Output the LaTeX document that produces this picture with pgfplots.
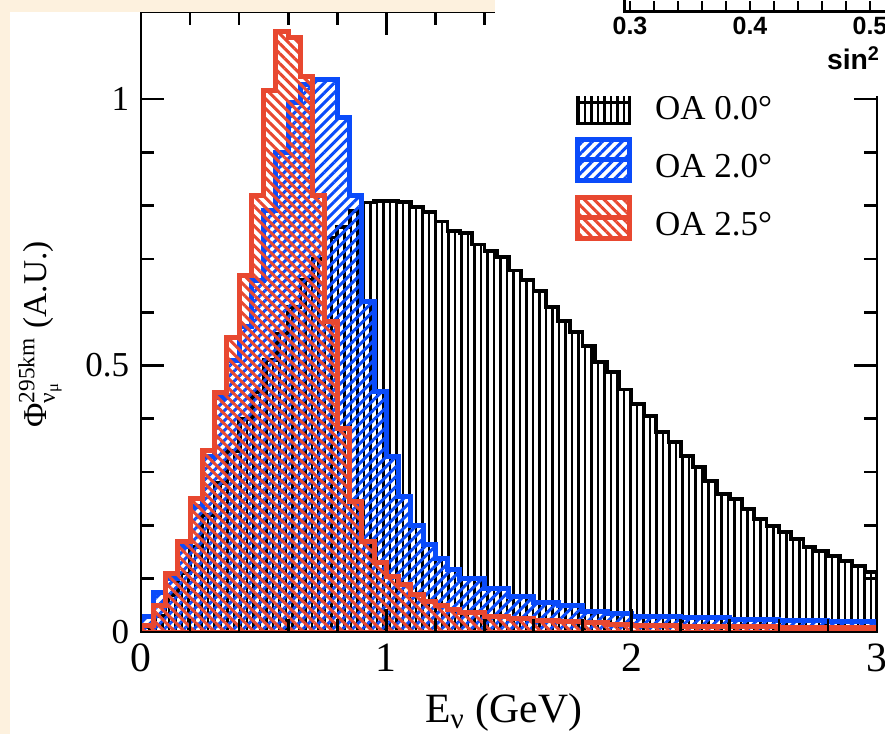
\documentclass[border=0pt]{standalone}
\usepackage{fontspec}
\setmainfont{Liberation Serif}
\setsansfont{Liberation Sans}
\usepackage{pgfplots}
\pgfplotsset{compat=1.18}
\usetikzlibrary{patterns.meta}
\definecolor{oablue}{RGB}{10,75,250}
\definecolor{oared}{RGB}{232,72,48}
\definecolor{beige}{RGB}{253,241,222}
\pgfplotsset{/pgf/number format/assume math mode=true}

\begin{document}
\begin{tikzpicture}
\path[use as bounding box] (0,0) rectangle (265.5pt,220.2pt);
\clip (0,0) rectangle (265.5pt,220.2pt);
\fill[white] (0,0) rectangle (265.5pt,220.2pt);
\begin{axis}[
  at={(42.3pt,30.6pt)}, anchor=south west, scale only axis,
  width=220.8pt, height=186pt,
  xmin=0, xmax=3, ymin=0, ymax=1.1632,
  xtick={0,1,2,3}, ytick={0,0.5,1},
  minor x tick num=4, minor y tick num=4,
  tick align=inside, major tick length=6.9pt, minor tick length=3.9pt,
  axis line style={line width=0.8pt},
  every tick/.style={black,line width=0.8pt},
  axis on top,
  yticklabel style={font=\fontsize{10.5}{12}\selectfont},
  xticklabel style={font=\fontsize{12.5}{14}\selectfont},
  xlabel={E\textsubscript{ν} (GeV)},
  xlabel style={font=\fontsize{12.5}{14}\selectfont, at={(axis description cs:0.493,-0.129)}, anchor=center},
  ylabel={Φ$^{\mbox{\scriptsize 295km}}_{\mbox{\scriptsize ν\textsubscript{μ}}}$ (A.U.)},
  ylabel style={font=\fontsize{10}{12}\selectfont, at={(axis description cs:-0.1372,0.48)}, anchor=center},
  legend style={at={(0.5897,0.889)}, anchor=north west, draw=none, fill=none,
    inner sep=0pt, outer sep=0pt, row sep=3.6pt,
    font=\fontsize{10.5}{12}\selectfont, nodes={inner sep=0pt},
    /tikz/every odd column/.append style={column sep=6.9pt}},
  legend cell align=left,
]
\addplot[const plot, draw=black, line width=1.1pt,
  pattern={Lines[angle=90,distance=1.95pt,line width=0.7pt]}, pattern color=black,
  legend image code/.code={
    \fill[pattern={Lines[angle=90,distance=1.95pt,line width=0.7pt]}, pattern color=black] (0pt,-3.9pt) rectangle (15.6pt,8.4pt);
    \draw[black,line width=1.1pt] (0pt,2.4pt) -- (15.6pt,2.4pt);}]
coordinates {
(0.00,0.01) (0.05,0.03) (0.10,0.07) (0.15,0.11) (0.20,0.16) (0.25,0.22)
(0.30,0.28) (0.35,0.34) (0.40,0.40) (0.45,0.45) (0.50,0.51) (0.55,0.56)
(0.60,0.61) (0.65,0.66) (0.70,0.70) (0.75,0.74) (0.80,0.76) (0.85,0.79)
(0.90,0.806) (0.95,0.809) (1.00,0.809) (1.05,0.807) (1.10,0.797) (1.15,0.788)
(1.20,0.77) (1.25,0.752) (1.30,0.748) (1.35,0.727) (1.40,0.715) (1.45,0.703)
(1.50,0.678) (1.55,0.66) (1.60,0.64) (1.65,0.61) (1.70,0.584) (1.75,0.563)
(1.80,0.537) (1.85,0.507) (1.90,0.488) (1.95,0.455) (2.00,0.428) (2.05,0.405)
(2.10,0.375) (2.15,0.356) (2.20,0.33) (2.25,0.31) (2.30,0.283) (2.35,0.259)
(2.40,0.25) (2.45,0.231) (2.50,0.212) (2.55,0.199) (2.60,0.188) (2.65,0.174)
(2.70,0.159) (2.75,0.152) (2.80,0.143) (2.85,0.133) (2.90,0.124) (2.95,0.112)
(3.00,0.112)
} \closedcycle;
\addlegendentry{OA 0.0°}
\addplot[const plot, draw=oablue, line width=1.5pt,
  pattern={Lines[angle=45,distance=2.1pt,line width=0.9pt]}, pattern color=oablue,
  legend image code/.code={
    \fill[pattern={Lines[angle=45,distance=2.1pt,line width=0.9pt]}, pattern color=oablue] (0pt,-3.9pt) rectangle (15.6pt,8.4pt);
    \draw[oablue,line width=1.5pt] (0pt,2.4pt) -- (15.6pt,2.4pt);}]
coordinates {
(0.00,0.03) (0.05,0.075) (0.10,0.10) (0.15,0.16) (0.20,0.235) (0.25,0.33)
(0.30,0.44) (0.35,0.51) (0.40,0.574) (0.45,0.66) (0.50,0.79) (0.55,0.90)
(0.60,0.994) (0.65,1.028) (0.70,1.037) (0.75,1.037) (0.80,0.966) (0.85,0.818)
(0.90,0.62) (0.95,0.452) (1.00,0.33) (1.05,0.255) (1.10,0.199) (1.15,0.165)
(1.20,0.137) (1.25,0.118) (1.30,0.10) (1.40,0.081) (1.50,0.066) (1.60,0.056)
(1.70,0.049) (1.80,0.039) (1.90,0.034) (2.00,0.030) (2.20,0.027) (2.40,0.024)
(2.60,0.022) (2.80,0.020) (3.00,0.020)
} \closedcycle;
\addlegendentry{OA 2.0°}
\addplot[const plot, draw=oared, line width=1.5pt,
  pattern={Lines[angle=-45,distance=2.1pt,line width=0.9pt]}, pattern color=oared,
  legend image code/.code={
    \fill[pattern={Lines[angle=-45,distance=2.1pt,line width=0.9pt]}, pattern color=oared] (0pt,-3.9pt) rectangle (15.6pt,8.4pt);
    \draw[oared,line width=1.5pt] (0pt,2.4pt) -- (15.6pt,2.4pt);}]
coordinates {
(0.00,0.012) (0.05,0.05) (0.10,0.11) (0.15,0.17) (0.20,0.25) (0.25,0.34)
(0.30,0.45) (0.35,0.553) (0.40,0.668) (0.45,0.818) (0.50,1.015) (0.55,1.126)
(0.60,1.116) (0.65,1.043) (0.70,0.818) (0.75,0.582) (0.80,0.381) (0.85,0.244)
(0.90,0.170) (0.95,0.131) (1.00,0.105) (1.05,0.090) (1.10,0.071) (1.15,0.058)
(1.20,0.049) (1.25,0.043) (1.30,0.036) (1.40,0.030) (1.50,0.026) (1.60,0.022)
(1.70,0.019) (1.80,0.017) (1.90,0.015) (2.00,0.012) (2.20,0.011) (2.40,0.010)
(2.60,0.009) (2.80,0.009) (3.00,0.009)
} \closedcycle;
\addlegendentry{OA 2.5°}
\end{axis}
\fill[white] (148.5pt,191.4pt) rectangle (265.5pt,220.2pt);
\fill[beige] (0,0) rectangle (3pt,220.2pt);
\fill[beige] (0,216.6pt) rectangle (148.5pt,220.2pt);
\begin{axis}[
  at={(187.2pt,216.9pt)}, anchor=south west, scale only axis,
  width=91.8pt, height=40pt,
  xmin=0.295, xmax=0.55, ymin=0, ymax=1,
  ytick=\empty, xtick={0.3,0.4,0.5}, minor x tick num=4,
  tick align=inside, major tick length=2.9pt, minor tick length=2.9pt,
  axis line style={line width=0.9pt},
  every tick/.style={black,line width=0.5pt},
  xticklabel style={font=\fontsize{7.5}{9}\selectfont\sffamily\bfseries, inner sep=1.5pt},
  xlabel={sin\textsuperscript{2}},
  xlabel style={font=\fontsize{8.5}{10}\selectfont\sffamily\bfseries,
    at={(axis description cs:0.625,-0.3525)}, anchor=west},
]
\end{axis}
\end{tikzpicture}
\end{document}
